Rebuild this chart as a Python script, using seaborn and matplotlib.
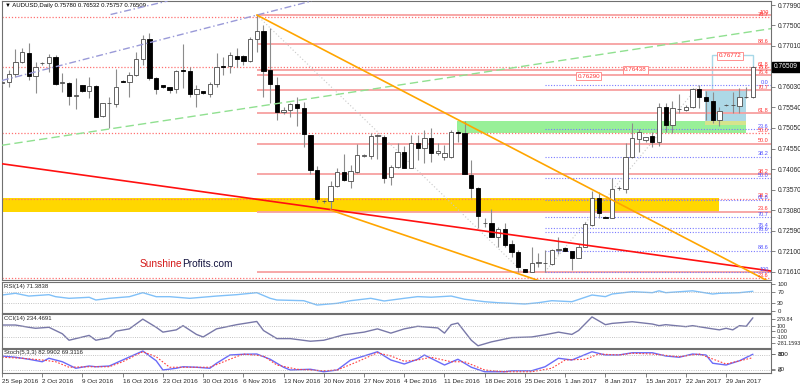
import numpy as np
import pandas as pd
import seaborn as sns
import matplotlib.pyplot as plt
import matplotlib.transforms as mtransforms
from matplotlib.patches import Rectangle

sns.set_theme(style="white")
plt.rcParams['font.family'] = ['Liberation Sans', 'DejaVu Sans']

# MT4 daily bars, Sunday bars included, no Saturday
dates = [d for d in pd.date_range("2016-09-25", "2017-02-02") if d.weekday() != 5]

opens = [0.76124, 0.76141, 0.76332, 0.76634, 0.76849, 0.76299, 0.76596, 0.76596, 0.76754, 0.76132,
         0.76117, 0.75813, 0.76069, 0.75926, 0.76053, 0.75335, 0.75639, 0.75622, 0.76172, 0.76155,
         0.76316, 0.76691, 0.77170, 0.76237, 0.76069, 0.76022, 0.75974, 0.76435, 0.76419, 0.75861,
         0.75933, 0.75861, 0.76093, 0.76531, 0.76531, 0.76777, 0.76763, 0.76651, 0.77170, 0.77376,
         0.76435, 0.76077, 0.75424, 0.75479, 0.75615, 0.75519, 0.74880, 0.74036, 0.73294, 0.73301,
         0.73660, 0.74002, 0.73787, 0.74002, 0.74385, 0.74378, 0.74856, 0.74840, 0.73868, 0.74122,
         0.74481, 0.74084, 0.74696, 0.74562, 0.74801, 0.74443, 0.74347, 0.74347, 0.74945, 0.74921,
         0.73923, 0.73605, 0.72768, 0.72782, 0.72447, 0.72624, 0.72265, 0.72089, 0.71682, 0.71610,
         0.71818, 0.71811, 0.71794, 0.72129, 0.72184, 0.72105, 0.71938, 0.72201, 0.72727, 0.73366,
         0.72919, 0.72888, 0.73605, 0.73581, 0.74361, 0.74785, 0.74761, 0.74856, 0.74720, 0.75543,
         0.75120, 0.75495, 0.75479, 0.75557, 0.75974, 0.75797, 0.75701, 0.75239, 0.75598, 0.75598,
         0.75574, 0.75782, 0.75780]
highs = [0.76196, 0.76435, 0.76938, 0.76962, 0.77089, 0.76634, 0.76634, 0.76818, 0.76794, 0.76364,
         0.76155, 0.76244, 0.76077, 0.76268, 0.76077, 0.75646, 0.75789, 0.76459, 0.76196, 0.76395,
         0.76866, 0.77273, 0.77328, 0.76275, 0.76077, 0.76036, 0.76435, 0.77057, 0.76514, 0.76077,
         0.75940, 0.76155, 0.76849, 0.76754, 0.76873, 0.76954, 0.76794, 0.77232, 0.77751, 0.77512,
         0.77440, 0.76275, 0.75550, 0.75639, 0.75782, 0.75677, 0.74880, 0.74146, 0.73325, 0.73787,
         0.74098, 0.74426, 0.74163, 0.74665, 0.74426, 0.74935, 0.74897, 0.74880, 0.74163, 0.74682,
         0.74617, 0.74880, 0.74880, 0.75000, 0.75041, 0.74682, 0.74641, 0.75000, 0.75000, 0.75222,
         0.74283, 0.73629, 0.72895, 0.73103, 0.72687, 0.72775, 0.72368, 0.72129, 0.71682, 0.72208,
         0.72050, 0.72129, 0.72153, 0.72433, 0.72201, 0.72105, 0.72265, 0.72799, 0.73548, 0.73524,
         0.72943, 0.73844, 0.73660, 0.74682, 0.75160, 0.75017, 0.74840, 0.74959, 0.75653, 0.75639,
         0.75701, 0.75854, 0.75598, 0.75998, 0.76077, 0.75940, 0.75909, 0.75557, 0.75622, 0.75916,
         0.75998, 0.76036, 0.76532]
lows = [0.76077, 0.76036, 0.76275, 0.76603, 0.76196, 0.75878, 0.76555, 0.76395, 0.76077, 0.75916,
        0.75598, 0.75502, 0.75916, 0.75773, 0.75311, 0.75311, 0.75048, 0.75550, 0.76148, 0.75797,
        0.76292, 0.76555, 0.76196, 0.75861, 0.75998, 0.75878, 0.75878, 0.75998, 0.75797, 0.75557,
        0.75861, 0.75797, 0.76036, 0.76316, 0.76356, 0.76514, 0.76555, 0.76634, 0.76873, 0.75782,
        0.75646, 0.75239, 0.75383, 0.75318, 0.75096, 0.74601, 0.73947, 0.73285, 0.73253, 0.73086,
        0.73644, 0.73787, 0.73605, 0.73978, 0.74347, 0.74299, 0.74299, 0.73725, 0.73684, 0.74084,
        0.74084, 0.74084, 0.74283, 0.74203, 0.74242, 0.74402, 0.74283, 0.74323, 0.74720, 0.73947,
        0.73366, 0.72648, 0.72687, 0.72447, 0.72208, 0.72208, 0.71969, 0.71610, 0.71603, 0.71610,
        0.71730, 0.71610, 0.71778, 0.72034, 0.72105, 0.71651, 0.71938, 0.72201, 0.72703, 0.72888,
        0.72888, 0.72888, 0.73565, 0.73500, 0.74323, 0.74481, 0.74720, 0.74586, 0.74617, 0.74959,
        0.74921, 0.75400, 0.75455, 0.75519, 0.75519, 0.75239, 0.75160, 0.75096, 0.75574, 0.75400,
        0.75400, 0.75758, 0.75757]
closes = [0.76155, 0.76332, 0.76634, 0.76859, 0.76299, 0.76514, 0.76603, 0.76754, 0.76101, 0.76148,
          0.75813, 0.75837, 0.75926, 0.76053, 0.75318, 0.75639, 0.75646, 0.76036, 0.76155, 0.76316,
          0.76699, 0.77170, 0.76237, 0.75974, 0.76022, 0.75957, 0.76419, 0.76419, 0.75861, 0.75974,
          0.75878, 0.76093, 0.76514, 0.76514, 0.76794, 0.76699, 0.76658, 0.77177, 0.77376, 0.76419,
          0.76093, 0.75424, 0.75479, 0.75615, 0.75534, 0.74904, 0.74043, 0.73342, 0.73301, 0.73660,
          0.74002, 0.73804, 0.74026, 0.74409, 0.74402, 0.74856, 0.74873, 0.73844, 0.74122, 0.74481,
          0.74084, 0.74682, 0.74577, 0.74801, 0.74457, 0.74505, 0.74443, 0.74945, 0.74935, 0.73947,
          0.73605, 0.72943, 0.72775, 0.72447, 0.72624, 0.72249, 0.72089, 0.71715, 0.71603, 0.71811,
          0.71849, 0.71818, 0.72129, 0.72153, 0.72113, 0.71938, 0.72201, 0.72751, 0.73366, 0.73007,
          0.72903, 0.73581, 0.73612, 0.74347, 0.74801, 0.74959, 0.74840, 0.74720, 0.75557, 0.75120,
          0.75519, 0.75502, 0.75557, 0.75974, 0.75797, 0.75701, 0.75239, 0.75462, 0.75605, 0.75605,
          0.75782, 0.75797, 0.76509]

date_labels = ["25 Sep 2016", "2 Oct 2016", "9 Oct 2016", "16 Oct 2016", "23 Oct 2016",
               "30 Oct 2016", "6 Nov 2016", "13 Nov 2016", "20 Nov 2016", "27 Nov 2016",
               "4 Dec 2016", "11 Dec 2016", "18 Dec 2016", "25 Dec 2016", "1 Jan 2017",
               "8 Jan 2017", "15 Jan 2017", "22 Jan 2017", "29 Jan 2017"]
price_ticks = [0.77990, 0.77500, 0.77010, 0.76030, 0.75540, 0.75050, 0.74550,
               0.74060, 0.73570, 0.73080, 0.72590, 0.72100, 0.71610]
last_price = 0.76509

# fibonacci levels
fib_red_start = 38
fib_red_levels = [0.77751, 0.77050, 0.76435, 0.76304, 0.75957, 0.75399, 0.74677, 0.73954, 0.73050, 0.71610]
fib_red_labels = ["100", "88.6", "78.6", "76.4", "70.7", "61.8", "50.0", "38.2", "23.6", ""]
fib_dot_levels = [0.77710, 0.76514, 0.74935, 0.73361, 0.71452]
fib_dot_labels = ["70.7", "61.8", "50.0", "38.2", "23.6"]
fib_blue_start = 81
fib_blue_levels = [0.76077, 0.75024, 0.74366, 0.73840, 0.73314, 0.72919, 0.72655, 0.72560, 0.72117, 0.71610]
fib_blue_labels = ["0.0", "23.6", "38.2", "50.0", "61.8", "70.7", "76.4", "78.6", "88.6", "100"]

# trend lines: (bar index, price) end points
lav_a_x, lav_a_y = [0, 46.2], [0.76185, 0.78086]
lav_b_x, lav_b_y = [16.2, 24.7], [0.77763, 0.78086]
green_x, green_y = [0, 114.75], [0.74635, 0.77426]
red_x, red_y = [0, 114.75], [0.74192, 0.71627]
orange_a_x, orange_a_y = [38, 114.75], [0.77751, 0.71345]
orange_b_x, orange_b_y = [49, 81.1], [0.73086, 0.71340]
fibline_r_x, fibline_r_y = [38, 77.6], [0.77751, 0.71610]
fibline_b_x, fibline_b_y = [81, 104], [0.71610, 0.76077]

# zones: x0, x1, price low, price high
yellow_zone = [0, 106.9, 0.73046, 0.73366]
green_zone = [67.9, 110.9, 0.74928, 0.75222]
blue_zone = [104.9, 111.0, 0.75120, 0.75957]
blue_box = [105.9, 112.0, 0.75957, 0.76794]

tag_idx = [87.5, 94.5, 108.6]
tag_price = [0.76290, 0.76438, 0.76772]

# indicators (bar index, value)
rsi_idx = [0, 2, 4, 7, 8, 10, 13, 14, 16, 19, 21, 23, 25, 28, 32, 35, 38, 40, 41, 45,
           47, 50, 52, 55, 57, 60, 62, 64, 67, 69, 72, 74, 78, 80, 82, 85, 88, 90, 91, 94,
           97, 98, 99, 103, 106, 107, 110, 112]
rsi_val = [58.6, 64.5, 55.0, 59.7, 52.8, 47.2, 50.7, 41.4, 47.2, 52.8, 66.6, 52.8, 52.8, 47.2,
           55.0, 59.7, 66.6, 47.2, 41.4, 39.0, 24.0, 30.0, 39.0, 47.2, 38.0, 47.2, 53.0, 51.0,
           55.0, 44.0, 35.5, 32.0, 27.6, 32.0, 39.0, 35.5, 58.6, 53.0, 62.0, 70.0, 66.6, 73.0,
           66.6, 73.0, 62.0, 64.5, 66.6, 71.4]
cci_idx = [0, 2, 4, 5, 7, 9, 10, 11, 13, 14, 16, 17, 19, 21, 23, 24, 26, 27, 29, 30, 32, 35,
           38, 39, 41, 43, 46, 48, 51, 54, 56, 58, 60, 62, 65, 66, 67, 68, 70, 71, 73, 76, 79,
           81, 83, 85, 86, 88, 90, 91, 94, 97, 98, 99, 102, 103, 106, 107, 108, 109, 110, 111, 112]
cci_val = [111, 111, 72, 55, 72, -39, -150, -122, -67, -150, -105, 5, 45, 212, 72, -11, 28, 100,
           -50, -94, 45, 117, 172, 17, -122, -122, -167, -150, -56, -11, 45, -28, 45, 89, 61, -28,
           117, 145, -150, -245, -178, -105, -94, -56, -11, -50, 17, 250, 117, 139, 167, 128, 100,
           117, 83, 100, 45, 28, 55, 28, 100, 89, 234.5]
stk_idx = [0, 2, 4, 6, 7, 9, 11, 13, 14, 16, 18, 20, 21, 23, 24, 26, 27, 29, 31, 32, 34, 36,
           38, 40, 42, 43, 46, 48, 50, 52, 54, 56, 58, 60, 62, 63, 66, 68, 70, 72, 75, 76, 79,
           81, 83, 85, 88, 90, 92, 94, 97, 99, 101, 103, 105, 106, 108, 110, 112]
stk_val = [76, 71, 63, 53, 67, 53, 27, 36, 33, 36, 60, 84, 96, 57, 20, 27, 33, 31, 27, 47, 80,
           83, 84, 63, 31, 20, 23, 13, 20, 60, 76, 93, 60, 44, 63, 80, 40, 63, 31, 13, 13, 17, 17,
           33, 67, 60, 93, 80, 80, 89, 89, 76, 71, 84, 80, 47, 40, 57, 83]
sig_idx = [0, 3, 6, 8, 10, 13, 16, 18, 21, 23, 25, 28, 31, 34, 36, 39, 41, 44, 48, 50, 53, 56,
           58, 60, 62, 64, 67, 69, 72, 75, 79, 82, 84, 87, 89, 92, 94, 97, 101, 104, 108, 112]
sig_val = [71, 67, 60, 53, 31, 33, 33, 53, 93, 73, 31, 31, 31, 63, 84, 76, 40, 23, 17, 20, 53,
           89, 76, 55, 60, 71, 53, 53, 20, 13, 13, 27, 60, 63, 84, 80, 87, 84, 73, 84, 44, 69.3]

# ---- figure ----
W, H = 800, 385
fig = plt.figure(figsize=(W / 100, H / 100), dpi=100)
fig.patch.set_facecolor("white")


def box(x0, y0, x1, y1):
    return [x0 / W, 1 - y1 / H, (x1 - x0) / W, (y1 - y0) / H]


ax = fig.add_axes(box(2, 1, 771, 280))
ax_rsi = fig.add_axes(box(2, 282, 771, 313), sharex=ax)
ax_cci = fig.add_axes(box(2, 314, 771, 348), sharex=ax)
ax_stk = fig.add_axes(box(2, 349, 771, 373), sharex=ax)

xlim = (0, 114.7)
idx = np.arange(len(dates))
o, h, l, c = map(np.array, (opens, highs, lows, closes))
red = "#ff3030"
blue_txt = "#5050ff"

for a in (ax, ax_rsi, ax_cci, ax_stk):
    a.set_facecolor("white")
    for s in a.spines.values():
        s.set_color("#707070")
        s.set_linewidth(0.8)
    a.set_xlim(*xlim)
    a.tick_params(left=False, labelleft=False, right=True, labelright=True, bottom=False,
                  labelbottom=False, direction="out", length=3, width=0.6, color="#707070",
                  labelsize=4.3, pad=1.5)

# zones
yrect = Rectangle((yellow_zone[0], yellow_zone[2]), yellow_zone[1] - yellow_zone[0],
                  yellow_zone[3] - yellow_zone[2], color="#ffd700", lw=0, zorder=1)
grect = Rectangle((green_zone[0], green_zone[2]), green_zone[1] - green_zone[0],
                  green_zone[3] - green_zone[2], color="#98f098", lw=0, zorder=1)
brect = Rectangle((blue_zone[0], blue_zone[2]), blue_zone[1] - blue_zone[0],
                  blue_zone[3] - blue_zone[2], color="#add8e6", lw=0, zorder=1.1)
mix = Rectangle((blue_zone[0], blue_zone[2]), blue_zone[1] - blue_zone[0],
                green_zone[3] - blue_zone[2], color="#d6e48c", lw=0, zorder=1.2)
bbox_rect = Rectangle((blue_box[0], blue_box[2]), blue_box[1] - blue_box[0],
                      blue_box[3] - blue_box[2], fill=False, ec="#a8d8e8", lw=1, zorder=1.2)
for p in (yrect, grect, brect, mix, bbox_rect):
    ax.add_patch(p)

# fib levels
lab_tr = mtransforms.blended_transform_factory(ax.transAxes, ax.transData)
ax.hlines(fib_red_levels, fib_red_start, xlim[1], color="#f7a0a0", lw=1.3, zorder=2)
ax.hlines(fib_dot_levels, xlim[0], xlim[1], color="#ff7070", lw=0.9, linestyles=(0, (1, 1.5)), zorder=2)
ax.hlines(fib_blue_levels, fib_blue_start, xlim[1], color="#7a7aff", lw=0.8, linestyles=(0, (1, 1.5)), zorder=2)
for lv, lb in zip(fib_red_levels, fib_red_labels):
    ax.text(0.997, lv + 0.00004, lb, transform=lab_tr, ha="right", va="bottom", fontsize=4, color=red, zorder=6)
for lv, lb in zip(fib_dot_levels, fib_dot_labels):
    ax.text(0.997, lv + 0.00004, lb, transform=lab_tr, ha="right", va="bottom", fontsize=4, color=red, zorder=6)
for lv, lb in zip(fib_blue_levels, fib_blue_labels):
    ax.text(0.997, lv + 0.00004, lb, transform=lab_tr, ha="right", va="bottom", fontsize=4, color=blue_txt, zorder=6)

ax.plot(fibline_r_x, fibline_r_y, color="#c8c8c8", lw=0.8, ls=(0, (1, 2)), zorder=2)
ax.plot(fibline_b_x, fibline_b_y, color="#c8c8c8", lw=0.8, ls=(0, (1, 2)), zorder=2)

# candles
up = c >= o
body = np.maximum(np.abs(c - o), 0.00008)
ax.vlines(idx, l, h, color="#8c8c8c", lw=0.8, zorder=3)
ax.bar(idx[up], body[up], bottom=o[up], width=0.64, color="white", edgecolor="#4a4a4a", lw=0.6, zorder=4)
ax.bar(idx[~up], body[~up], bottom=c[~up], width=0.64, color="black", edgecolor="black", lw=0.6, zorder=4)

# trend lines
ax.plot(lav_a_x, lav_a_y, color="#9a9ad8", lw=1, ls=(0, (5, 2, 1, 2)), zorder=5)
ax.plot(lav_b_x, lav_b_y, color="#9a9ad8", lw=1, ls=(0, (5, 2, 1, 2)), zorder=5)
ax.plot(green_x, green_y, color="#90e090", lw=1, ls=(0, (6, 3)), zorder=5)
ax.plot(red_x, red_y, color="#ff1010", lw=1.2, zorder=5)
ax.plot(orange_a_x, orange_a_y, color="#ffa500", lw=1.2, zorder=5)
ax.plot(orange_b_x, orange_b_y, color="#ffa500", lw=1.2, zorder=5)

# price tags
for xi, pr in zip(tag_idx, tag_price):
    ax.text(xi, pr, f"{pr:.5f}", fontsize=4.5, color=red, ha="center", va="center", zorder=7,
            bbox=dict(boxstyle="square,pad=0.2", fc="white", ec="#ff8080", lw=0.6))

ax.set_ylim(0.71412, 0.78086)
ax.set_yticks(price_ticks)
ax.set_yticklabels([f"{p:.5f}" for p in price_ticks])
ax.tick_params(labelsize=4.8)
ax.text(1.004, last_price, f"{last_price:.5f}", transform=lab_tr, ha="left", va="center",
        fontsize=4.8, color="white", clip_on=False, zorder=8,
        bbox=dict(boxstyle="square,pad=0.25", fc="black", ec="black"))

ax.text(0.004, 0.993, "\u25bc AUDUSD,Daily 0.75780 0.76532 0.75757 0.76509", transform=ax.transAxes,
        ha="left", va="top", fontsize=4.3, color="black")
t1 = ax.text(20.5, 0.71794, "Sunshine", fontsize=7.3, color="#d41818", ha="left", va="center", zorder=7)
ax.annotate("Profits.com", xy=(1, 0), xycoords=t1, va="bottom", ha="left", fontsize=7.3,
            color="#141440", zorder=7)

# RSI
sns.lineplot(x=rsi_idx, y=rsi_val, ax=ax_rsi, color="#80c0f8", lw=1)
ax_rsi.axhline(70, color="#b0b0b0", lw=0.6, ls=":")
ax_rsi.axhline(30, color="#b0b0b0", lw=0.6, ls=":")
ax_rsi.set_ylim(-3.4, 103.4)
ax_rsi.set_yticks([3, 30, 70, 97])
ax_rsi.set_yticklabels(["0", "30", "70", "100"])
ax_rsi.text(0.003, 0.95, "RSI(14) 71.3838", transform=ax_rsi.transAxes, ha="left", va="top", fontsize=4.3)

# CCI
sns.lineplot(x=cci_idx, y=cci_val, ax=ax_cci, color="#7878a8", lw=1)
ax_cci.axhline(100, color="#b0b0b0", lw=0.6, ls=":")
ax_cci.axhline(-100, color="#b0b0b0", lw=0.6, ls=":")
ax_cci.set_ylim(-283, 300)
ax_cci.set_yticks([-190, -100, 0, 100, 217])
ax_cci.set_yticklabels(["-281.1593", "-100", "0.00", "100", "279.84"])
ax_cci.tick_params(labelsize=3.9, pad=1)
ax_cci.text(0.003, 0.95, "CCI(14) 234.4691", transform=ax_cci.transAxes, ha="left", va="top", fontsize=4.3)

# Stochastic
sns.lineplot(x=stk_idx, y=stk_val, ax=ax_stk, color="#6a6af8", lw=1)
sns.lineplot(x=sig_idx, y=sig_val, ax=ax_stk, color="#ff4040", lw=0.8, ls=(0, (1.5, 1.5)))
ax_stk.axhline(80, color="#b0b0b0", lw=0.6, ls=":")
ax_stk.axhline(20, color="#b0b0b0", lw=0.6, ls=":")
ax_stk.set_ylim(8, 104)
ax_stk.set_yticks([22, 24, 84, 86])
ax_stk.set_yticklabels(["0", "20", "80", "100"])
ax_stk.text(0.003, 0.95, "Stoch(5,3,3) 82.9902 69.3116", transform=ax_stk.transAxes, ha="left", va="top", fontsize=4.3)

for a in (ax, ax_rsi, ax_cci, ax_stk):
    a.set_xlabel("")
    a.set_ylabel("")

sun_pos = [i for i, d in enumerate(dates) if d.weekday() == 6]
ax_stk.set_xticks(sun_pos)
ax_stk.set_xticklabels(date_labels, ha="left")
ax_stk.tick_params(bottom=True, labelbottom=True, labelsize=4.6, pad=1.5)
ax_stk.set_xlim(*xlim)

fig.savefig("out.png", dpi=100, facecolor="white")
